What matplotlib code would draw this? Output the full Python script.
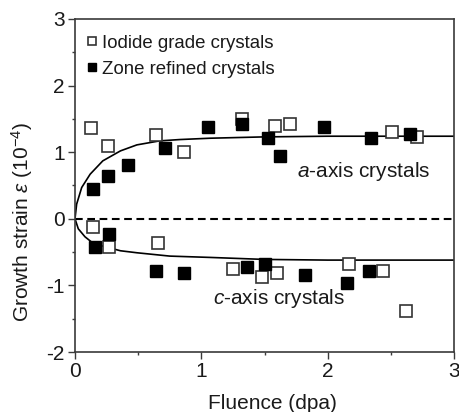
import matplotlib
matplotlib.use("Agg")
import matplotlib.pyplot as plt
from matplotlib.ticker import MultipleLocator

plt.rcParams['font.family'] = ['Liberation Sans', 'DejaVu Sans']
plt.rcParams['mathtext.fontset'] = 'custom'
plt.rcParams['mathtext.rm'] = 'Liberation Sans'
plt.rcParams['mathtext.it'] = 'Liberation Sans:italic'
plt.rcParams['axes.unicode_minus'] = False

# Iodide grade crystals (open squares)
iodide_a_x = [0.13, 0.26, 0.64, 0.86, 1.32, 1.58, 1.70, 2.51, 2.71]
iodide_a_y = [1.37, 1.10, 1.26, 1.00, 1.50, 1.39, 1.42, 1.30, 1.23]
iodide_c_x = [0.14, 0.27, 0.66, 1.25, 1.48, 1.60, 2.17, 2.44, 2.62]
iodide_c_y = [-0.13, -0.42, -0.36, -0.75, -0.88, -0.81, -0.68, -0.78, -1.39]

# Zone refined crystals (filled squares)
zone_a_x = [0.14, 0.26, 0.42, 0.71, 1.05, 1.32, 1.53, 1.62, 1.97, 2.34, 2.65]
zone_a_y = [0.44, 0.65, 0.81, 1.06, 1.38, 1.42, 1.22, 0.94, 1.38, 1.22, 1.28]
zone_c_x = [0.16, 0.27, 0.64, 0.86, 1.36, 1.50, 1.82, 2.15, 2.33]
zone_c_y = [-0.42, -0.23, -0.78, -0.81, -0.72, -0.68, -0.85, -0.97, -0.78]

# Fit curves
fit_a_x = [0.0, 0.013, 0.053, 0.12, 0.22, 0.36, 0.49, 0.67, 0.83, 1.07, 1.5, 2.0, 3.0]
fit_a_y = [0.0, 0.22, 0.47, 0.67, 0.87, 1.02, 1.11, 1.17, 1.19, 1.21, 1.23, 1.24, 1.24]
fit_c_x = [0.0, 0.026, 0.079, 0.145, 0.22, 0.36, 0.49, 0.75, 1.07, 1.5, 2.0, 3.0]
fit_c_y = [0.0, -0.15, -0.27, -0.37, -0.41, -0.48, -0.51, -0.56, -0.58, -0.61, -0.62, -0.62]

W, H = 459, 412
fig = plt.figure(figsize=(W / 100, H / 100), dpi=100)
ax = fig.add_axes([75 / W, 1 - 352 / H, (454 - 75) / W, (352 - 19) / H])

axis_col = '#3a3a3a'
txt_col = '#1a1a1a'
ax.plot(fit_a_x, fit_a_y, color='black', lw=1.2, zorder=2)
ax.plot(fit_c_x, fit_c_y, color='black', lw=1.2, zorder=2)
ax.axhline(0, color='black', lw=1.5, ls=(0, (3.7, 2.2)), zorder=1)

ms = 8.5
ax.plot(iodide_a_x + iodide_c_x, iodide_a_y + iodide_c_y, ls='none', marker='s',
        ms=ms, mfc='white', mec='#333333', mew=1.2, zorder=3,
        label='Iodide grade crystals')
ax.plot(zone_a_x + zone_c_x, zone_a_y + zone_c_y, ls='none', marker='s',
        ms=ms, mfc='black', mec='black', mew=1.0, zorder=4,
        label='Zone refined crystals')

ax.set_xlim(0, 3)
ax.set_ylim(-2, 3)
ax.xaxis.set_major_locator(MultipleLocator(1))
ax.xaxis.set_minor_locator(MultipleLocator(0.5))
ax.yaxis.set_major_locator(MultipleLocator(1))
ax.yaxis.set_minor_locator(MultipleLocator(0.5))
ax.tick_params(which='both', direction='out', colors=axis_col, labelcolor=txt_col,
               labelsize=15, top=False, right=False)
ax.tick_params(which='major', length=5, width=1.0, pad=2.5)
ax.tick_params(which='minor', length=2.5, width=1.0)
for s in ax.spines.values():
    s.set_color(axis_col)
    s.set_linewidth(1.2)

ax.set_xlabel('Fluence (dpa)', fontsize=15, color=txt_col)
ax.set_ylabel(r'Growth strain $\mathit{\varepsilon}$ (10$^{-4}$)', fontsize=15, color=txt_col)
ax.xaxis.set_label_coords(0.522, -0.125)
ax.yaxis.set_label_coords(-0.105, 0.39)

ax.text(0.585, 0.526, r'$\mathit{a}$-axis crystals', transform=ax.transAxes,
        fontsize=15, color=txt_col, va='baseline', ha='left')
ax.text(0.364, 0.143, r'$\mathit{c}$-axis crystals', transform=ax.transAxes,
        fontsize=15, color=txt_col, va='baseline', ha='left')

leg = ax.legend(loc='upper left', bbox_to_anchor=(-0.011, 1.0), frameon=False,
                fontsize=13.4, markerscale=0.7, handlelength=0.6, handletextpad=0.2,
                borderaxespad=0.55, labelspacing=0.47, borderpad=0.3)
for t in leg.get_texts():
    t.set_color(txt_col)

fig.savefig('out.png', dpi=100)
